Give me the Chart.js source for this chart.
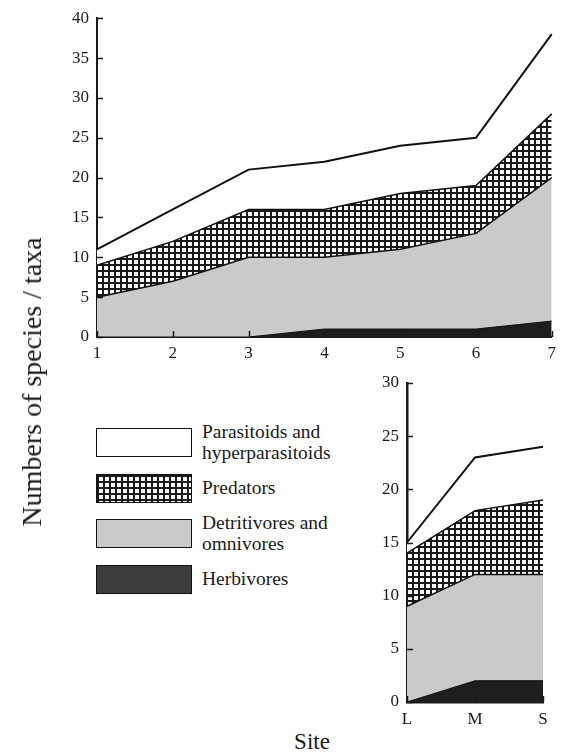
<!DOCTYPE html>
<html>
<head>
<meta charset="utf-8">
<script src="https://cdn.jsdelivr.net/npm/chart.js@4/dist/chart.umd.min.js"></script>
<style>
  html, body { margin: 0; padding: 0; background: #fff; }
  body { width: 562px; height: 756px; position: relative; overflow: hidden;
         font-family: "Liberation Serif", "Times New Roman", serif; color: #1a1a1a; }
  canvas { position: absolute; }
  #topChart { left: 0; top: 0; }
  #lowChart { left: 340px; top: 360px; }
  .ytitle { position: absolute; left: 32px; top: 382px; transform: translate(-50%, -50%) rotate(-90deg);
            white-space: nowrap; font-size: 28px; }
  .xtitle { position: absolute; left: 312px; top: 742px; transform: translate(-50%, -50%);
            font-size: 23px; }
  .legend-row { position: absolute; left: 96px; height: 29px; display: flex; align-items: center; }
  .legend-box { width: 94px; height: 27px; border: 1.5px solid #111; box-sizing: content-box; flex: none; }
  .legend-text { margin-left: 10px; font-size: 18px; line-height: 21px; white-space: pre;
                 transform: scaleX(1.08); transform-origin: left center; }
</style>
</head>
<body>
<canvas id="topChart" width="562" height="372"></canvas>
<canvas id="lowChart" width="222" height="380"></canvas>
<div class="ytitle">Numbers of species / taxa</div>
<div class="xtitle">Site</div>
<div id="legend"></div>
<script>
// Sites along the gradient (upper panel) and the L / M / S sites (lower panel)
const topSites = ['1', '2', '3', '4', '5', '6', '7'];
const lowSites = ['L', 'M', 'S'];

// Species counts per feeding guild, stacked bottom to top
const topHerbivores   = [0, 0, 0, 1, 1, 1, 2];
const topDetritivores = [5, 7, 10, 9, 10, 12, 18];
const topPredators    = [4, 5, 6, 6, 7, 6, 8];
const topParasitoids  = [2, 4, 5, 6, 6, 6, 10];

const lowHerbivores   = [0, 2, 2];
const lowDetritivores = [9, 10, 10];
const lowPredators    = [5, 6, 7];
const lowParasitoids  = [1, 5, 5];

// Axis ranges and tick spacing
const topYMax = 40;
const lowYMax = 30;
const yStep = 5;

// Guild names, top of the legend first
const guildNames = ['Parasitoids and\nhyperparasitoids', 'Predators', 'Detritivores and\nomnivores', 'Herbivores'];

const FONT = '"Liberation Serif", "Times New Roman", serif';
const INK = '#1a1a1a';

Chart.defaults.font.family = FONT;
Chart.defaults.font.size = 17;
Chart.defaults.color = INK;

// Square cross-hatch used for the predator band
function makeHatch() {
  const c = document.createElement('canvas');
  c.width = 6; c.height = 6;
  const g = c.getContext('2d');
  g.fillStyle = '#ffffff';
  g.fillRect(0, 0, 6, 6);
  g.fillStyle = INK;
  g.fillRect(0, 0, 6, 2);
  g.fillRect(0, 0, 2, 6);
  return c;
}
const hatchCanvas = makeHatch();
const hatch = document.createElement('canvas').getContext('2d').createPattern(hatchCanvas, 'repeat');

const guildStyle = {
  herb:  { fill: '#1e1e1e', line: '#111', width: 1, legend: '#3c3c3c' },
  det:   { fill: '#c9cacc', line: '#111', width: 1.5, legend: '#c9cacc' },
  pred:  { fill: hatch,     line: '#111', width: 1.5 },
  para:  { fill: '#ffffff', line: '#111', width: 2, legend: '#ffffff' }
};

function stackedSets(herb, det, pred, para) {
  const mk = (data, st, fill) => ({
    data, fill, backgroundColor: st.fill, borderColor: st.line, borderWidth: st.width,
    pointRadius: 0, tension: 0, borderJoinStyle: 'miter'
  });
  return [
    mk(herb, guildStyle.herb, 'origin'),
    mk(det, guildStyle.det, '-1'),
    mk(pred, guildStyle.pred, '-1'),
    mk(para, guildStyle.para, '-1')
  ];
}

// Short tick marks pointing into the plot area
const innerTicks = {
  id: 'innerTicks',
  afterDraw(chart, args, opts) {
    const { ctx, chartArea, scales } = chart;
    ctx.save();
    ctx.strokeStyle = INK;
    ctx.lineWidth = opts.width || 1.5;
    const len = opts.length || 6;
    const x = scales.x, y = scales.y;
    x.ticks.forEach((t, i) => {
      const px = Math.round(x.getPixelForTick(i)) + 0.5;
      ctx.beginPath();
      ctx.moveTo(px, chartArea.bottom);
      ctx.lineTo(px, chartArea.bottom - len);
      ctx.stroke();
    });
    y.ticks.forEach((t, i) => {
      const py = Math.round(y.getPixelForTick(i)) + 0.5;
      ctx.beginPath();
      ctx.moveTo(chartArea.left, py);
      ctx.lineTo(chartArea.left + len, py);
      ctx.stroke();
    });
    ctx.restore();
  }
};

function makeChart(id, labels, sets, yMax, geom) {
  return new Chart(document.getElementById(id), {
    type: 'line',
    data: { labels, datasets: sets },
    plugins: [innerTicks],
    options: {
      responsive: false,
      animation: false,
      devicePixelRatio: 1,
      layout: { padding: { top: geom.top, right: geom.right, left: 0, bottom: 0 } },
      plugins: { legend: { display: false }, tooltip: { enabled: false }, innerTicks: { length: 6, width: 1.5 } },
      scales: {
        x: {
          type: 'category',
          offset: false,
          grid: { display: false, drawTicks: false },
          border: { color: INK, width: geom.axisWidth },
          ticks: { color: INK, font: { family: FONT, size: 17 }, padding: geom.xPad, maxRotation: 0, autoSkip: false },
          afterFit: s => { s.height = geom.xHeight; }
        },
        y: {
          stacked: true,
          min: 0, max: yMax,
          grid: { display: false, drawTicks: false },
          border: { color: INK, width: geom.axisWidth },
          ticks: { stepSize: yStep, color: INK, font: { family: FONT, size: 17 }, padding: 8 },
          afterFit: s => { s.width = geom.yWidth; }
        }
      }
    }
  });
}

function drawAll() {
  makeChart('topChart', topSites,
    stackedSets(topHerbivores, topDetritivores, topPredators, topParasitoids), topYMax,
    { top: 18, right: 9, yWidth: 97, xHeight: 35, xPad: 6, axisWidth: 2 });

  makeChart('lowChart', lowSites,
    stackedSets(lowHerbivores, lowDetritivores, lowPredators, lowParasitoids), lowYMax,
    { top: 23, right: 19, yWidth: 67, xHeight: 38, xPad: 7, axisWidth: 2.5 });
}

// Legend built from the guild names and the fills used in the plots
const legendFills = [guildStyle.para.legend, null, guildStyle.det.legend, guildStyle.herb.legend];
const legendTops = [428, 474, 519, 565];
const legend = document.getElementById('legend');
guildNames.forEach((name, i) => {
  const row = document.createElement('div');
  row.className = 'legend-row';
  row.style.top = legendTops[i] + 'px';
  const box = document.createElement('div');
  box.className = 'legend-box';
  if (legendFills[i]) box.style.background = legendFills[i];
  else {
    box.style.backgroundImage = 'url(' + hatchCanvas.toDataURL() + ')';
    box.style.backgroundRepeat = 'repeat';
  }
  const txt = document.createElement('div');
  txt.className = 'legend-text';
  txt.textContent = name;
  row.appendChild(box);
  row.appendChild(txt);
  legend.appendChild(row);
});

// Canvas text needs the serif face loaded before the axes are drawn
document.fonts.load('17px "Liberation Serif"').then(drawAll, drawAll);
</script>
</body>
</html>
